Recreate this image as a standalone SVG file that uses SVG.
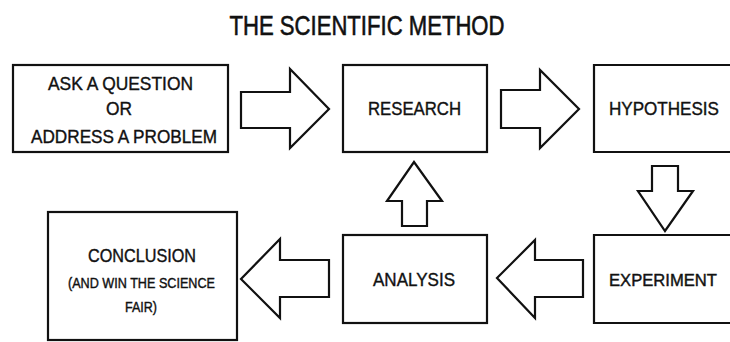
<svg xmlns="http://www.w3.org/2000/svg" width="730" height="342" viewBox="0 0 730 342">
<style>
.box{fill:#fff;stroke:#111;stroke-width:2.2}
.arr{fill:#fff;stroke:#111;stroke-width:2.2;stroke-linejoin:miter}
text{font-family:"Liberation Sans","DejaVu Sans",sans-serif;fill:#111;stroke:#111;stroke-width:0.4;text-anchor:middle}
.lbl{font-size:19px}
.sm{font-size:14px}
.title{font-size:28px;stroke-width:0.6}
</style>
<rect width="730" height="342" fill="#fff"/>
<text class="title" x="367" y="35" textLength="275" lengthAdjust="spacingAndGlyphs">THE SCIENTIFIC METHOD</text>
<g id="connectors">
<polygon class="arr" points="241,92 290,92 290,69 329,109 290,148 290,128 241,128"/>
<polygon class="arr" points="501,90 540,90 540,70 579,109 540,148 540,128 501,128"/>
<polygon class="arr" points="652,166 678,166 678,191 693,191 665,231 638,191 652,191"/>
<polygon class="arr" points="583,260 535,260 535,240 497,278 535,318 535,297 583,297"/>
<polygon class="arr" points="402,226 402,201 387,201 414,162 442,201 427,201 427,226"/>
<polygon class="arr" points="329,260 280,260 280,239 241,279 280,318 280,297 329,297"/>
</g>
<g id="ask">
<rect class="box" x="13" y="65" width="215" height="87"/>
<text class="lbl" x="120.5" y="90" textLength="145" lengthAdjust="spacingAndGlyphs">ASK A QUESTION</text>
<text class="lbl" x="119" y="115" textLength="26" lengthAdjust="spacingAndGlyphs">OR</text>
<text class="lbl" x="124" y="143" textLength="186" lengthAdjust="spacingAndGlyphs">ADDRESS A PROBLEM</text>
</g>
<g id="research">
<rect class="box" x="343" y="65" width="144" height="87"/>
<text class="lbl" x="414.5" y="115" textLength="93" lengthAdjust="spacingAndGlyphs">RESEARCH</text>
</g>
<g id="hypothesis">
<path class="box" d="M730,65 H594 V152 H730"/>
<text class="lbl" x="664" y="115" textLength="110" lengthAdjust="spacingAndGlyphs">HYPOTHESIS</text>
</g>
<g id="experiment">
<path class="box" d="M730,235 H594 V323 H730"/>
<text x="663" y="286" style="font-size:16px" textLength="108" lengthAdjust="spacingAndGlyphs">EXPERIMENT</text>
</g>
<g id="analysis">
<rect class="box" x="343" y="235" width="144" height="88"/>
<text class="lbl" x="414" y="286" textLength="82" lengthAdjust="spacingAndGlyphs">ANALYSIS</text>
</g>
<g id="conclusion">
<rect class="box" x="48" y="212" width="189" height="128"/>
<text class="lbl" x="142" y="262" textLength="108" lengthAdjust="spacingAndGlyphs">CONCLUSION</text>
<text class="sm" x="141.5" y="288" textLength="147" lengthAdjust="spacingAndGlyphs">(AND WIN THE SCIENCE</text>
<text class="sm" x="141" y="312" textLength="32" lengthAdjust="spacingAndGlyphs">FAIR)</text>
</g>
</svg>
